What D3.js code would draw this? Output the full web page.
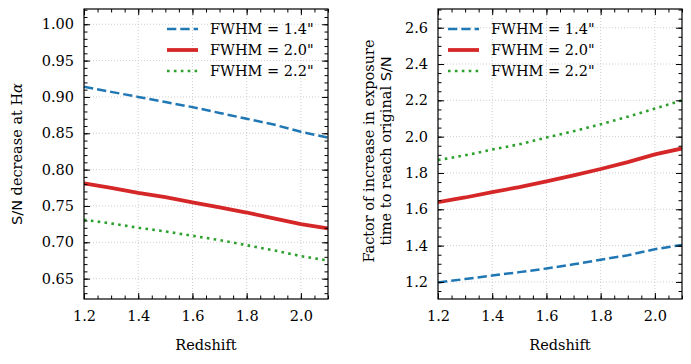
<!DOCTYPE html>
<html>
<head>
<meta charset="utf-8">
<script src="https://cdn.jsdelivr.net/npm/d3@7"></script>
<style>
  body { margin: 0; background: #fff; }
</style>
</head>
<body>
<div id="chart-container"></div>
<script>
// Data
const redshift = [1.2, 1.3, 1.4, 1.5, 1.6, 1.7, 1.8, 1.9, 2.0, 2.1];

const snDrop14 = [0.914, 0.907, 0.900, 0.893, 0.886, 0.878, 0.870, 0.862, 0.852, 0.844];
const snDrop20 = [0.781, 0.775, 0.768, 0.762, 0.755, 0.748, 0.741, 0.733, 0.725, 0.719];
const snDrop22 = [0.731, 0.726, 0.720, 0.715, 0.709, 0.703, 0.696, 0.689, 0.681, 0.675];

const expFactor14 = [1.197, 1.216, 1.235, 1.254, 1.274, 1.297, 1.322, 1.347, 1.380, 1.404];
const expFactor20 = [1.639, 1.665, 1.695, 1.722, 1.754, 1.787, 1.822, 1.860, 1.902, 1.935];
const expFactor22 = [1.871, 1.897, 1.929, 1.958, 1.995, 2.030, 2.068, 2.110, 2.155, 2.200];

const seriesNames = ['FWHM = 1.4"', 'FWHM = 2.0"', 'FWHM = 2.2"'];
const xTicks = [1.2, 1.4, 1.6, 1.8, 2.0];
const leftTicks = [0.65, 0.70, 0.75, 0.80, 0.85, 0.90, 0.95, 1.00];
const rightTicks = [1.2, 1.4, 1.6, 1.8, 2.0, 2.2, 2.4, 2.6];

const styles = [
    { color: "#1f77b4", width: 2.5, dash: "9.3,4" },
    { color: "#d62728", width: 3.8, dash: null },
    { color: "#2ca02c", width: 2.6, dash: "2.6,4.3" }
];

const W = 691, H = 364;
const fontSize = "14.5px";
const serif = "DejaVu Serif";
const sans = "DejaVu Sans";

const svg = d3.select("#chart-container")
    .append("svg")
    .attr("width", W)
    .attr("height", H);

function drawPanel(opts) {
    const g = svg.append("g").attr("transform", `translate(${opts.left},${opts.top})`);
    const w = opts.width, h = opts.height;

    const x = d3.scaleLinear().domain([1.2, 2.1]).range([0, w]);
    const y = d3.scaleLinear().domain(opts.yDomain).range([h, 0]);

    // grid
    g.append("g").selectAll("line").data(xTicks).enter().append("line")
        .attr("x1", d => x(d)).attr("x2", d => x(d))
        .attr("y1", 0).attr("y2", h)
        .attr("stroke", "#c8c8c8").attr("stroke-width", 0.9)
        .attr("stroke-dasharray", "1,2");
    g.append("g").selectAll("line").data(opts.yTicks).enter().append("line")
        .attr("x1", 0).attr("x2", w)
        .attr("y1", d => y(d)).attr("y2", d => y(d))
        .attr("stroke", "#c8c8c8").attr("stroke-width", 0.9)
        .attr("stroke-dasharray", "1,2");

    // lines
    const line = d3.line().x(d => x(d[0])).y(d => y(d[1]));
    g.append("defs").append("clipPath").attr("id", opts.id + "-clip")
        .append("rect").attr("width", w).attr("height", h);
    opts.series.forEach((vals, i) => {
        g.append("path")
            .datum(redshift.map((r, j) => [r, vals[j]]))
            .attr("clip-path", `url(#${opts.id}-clip)`)
            .attr("fill", "none")
            .attr("stroke", styles[i].color)
            .attr("stroke-width", styles[i].width)
            .attr("stroke-dasharray", styles[i].dash)
            .attr("d", line);
    });

    // axes, ticks pointing inward on all four sides
    const xMinor = d3.range(1.2, 2.1001, 0.05);
    const yMinor = d3.range(opts.yDomain[0], opts.yDomain[1] + 1e-9, opts.yMinorStep)
        .map(v => Math.ceil(v / opts.yMinorStep - 1e-6) * opts.yMinorStep);

    g.append("g").attr("transform", `translate(0,${h})`)
        .call(d3.axisBottom(x).tickValues(xTicks).tickFormat(d3.format(".1f"))
            .tickSizeInner(-6).tickSizeOuter(0).tickPadding(12));
    g.append("g").attr("transform", `translate(0,${h})`)
        .call(d3.axisBottom(x).tickValues(xMinor).tickFormat("").tickSizeInner(-3.5).tickSizeOuter(0));
    g.append("g")
        .call(d3.axisTop(x).tickValues(xTicks).tickFormat("").tickSizeInner(-6).tickSizeOuter(0));
    g.append("g")
        .call(d3.axisTop(x).tickValues(xMinor).tickFormat("").tickSizeInner(-3.5).tickSizeOuter(0));

    g.append("g")
        .call(d3.axisLeft(y).tickValues(opts.yTicks).tickFormat(opts.yFormat)
            .tickSizeInner(-6).tickSizeOuter(0).tickPadding(10));
    g.append("g")
        .call(d3.axisLeft(y).tickValues(yMinor).tickFormat("").tickSizeInner(-3.5).tickSizeOuter(0));
    g.append("g").attr("transform", `translate(${w},0)`)
        .call(d3.axisRight(y).tickValues(opts.yTicks).tickFormat("").tickSizeInner(-6).tickSizeOuter(0));
    g.append("g").attr("transform", `translate(${w},0)`)
        .call(d3.axisRight(y).tickValues(yMinor).tickFormat("").tickSizeInner(-3.5).tickSizeOuter(0));

    g.selectAll(".domain").remove();
    g.selectAll(".tick line").attr("stroke", "#000").attr("stroke-width", 1);
    g.selectAll(".tick text")
        .style("font-family", serif)
        .style("font-size", fontSize)
        .attr("fill", "#000");

    // frame
    g.append("rect")
        .attr("width", w).attr("height", h)
        .attr("fill", "none").attr("stroke", "#000").attr("stroke-width", 1.2);

    // legend
    const legend = g.selectAll(".legend")
        .data(seriesNames)
        .enter()
        .append("g")
        .attr("class", "legend")
        .attr("transform", (d, i) => `translate(${opts.legendX}, ${20 + i * 21})`);
    legend.append("line")
        .attr("x1", 0).attr("x2", 31)
        .attr("stroke", (d, i) => styles[i].color)
        .attr("stroke-width", (d, i) => styles[i].width)
        .attr("stroke-dasharray", (d, i) => styles[i].dash);
    legend.append("text")
        .attr("x", 43).attr("y", 5)
        .style("font-family", serif)
        .style("font-size", fontSize)
        .text(d => d);

    // x label
    g.append("text")
        .attr("x", w / 2).attr("y", h + 51)
        .attr("text-anchor", "middle")
        .style("font-family", serif)
        .style("font-size", fontSize)
        .text("Redshift");

    return g;
}

drawPanel({
    id: "p1", left: 84, top: 9, width: 244, height: 290,
    yDomain: [0.622, 1.021], yTicks: leftTicks, yMinorStep: 0.01,
    yFormat: d3.format(".2f"), legendX: 83,
    series: [snDrop14, snDrop20, snDrop22]
});

drawPanel({
    id: "p2", left: 438, top: 9, width: 244, height: 290,
    yDomain: [1.106, 2.703], yTicks: rightTicks, yMinorStep: 0.05,
    yFormat: d3.format(".1f"), legendX: 10,
    series: [expFactor14, expFactor20, expFactor22]
});

// Y labels
const yl1 = svg.append("text")
    .attr("transform", "translate(22,154) rotate(-90)")
    .attr("text-anchor", "middle")
    .style("font-family", serif)
    .style("font-size", fontSize);
yl1.append("tspan").style("font-family", sans).text("S/N");
yl1.append("tspan").text(" decrease at H");
yl1.append("tspan").style("font-style", "italic").text("α");

const yl2 = svg.append("text")
    .attr("transform", "translate(374,151) rotate(-90)")
    .attr("text-anchor", "middle")
    .style("font-family", serif)
    .style("font-size", fontSize);
yl2.append("tspan").attr("x", 0).attr("dy", 0).text("Factor of increase in exposure");
const l2 = yl2.append("tspan").attr("x", 0).attr("dy", 17);
l2.append("tspan").text("time to reach original ");
l2.append("tspan").style("font-family", sans).text("S/N");
</script>
</body>
</html>
